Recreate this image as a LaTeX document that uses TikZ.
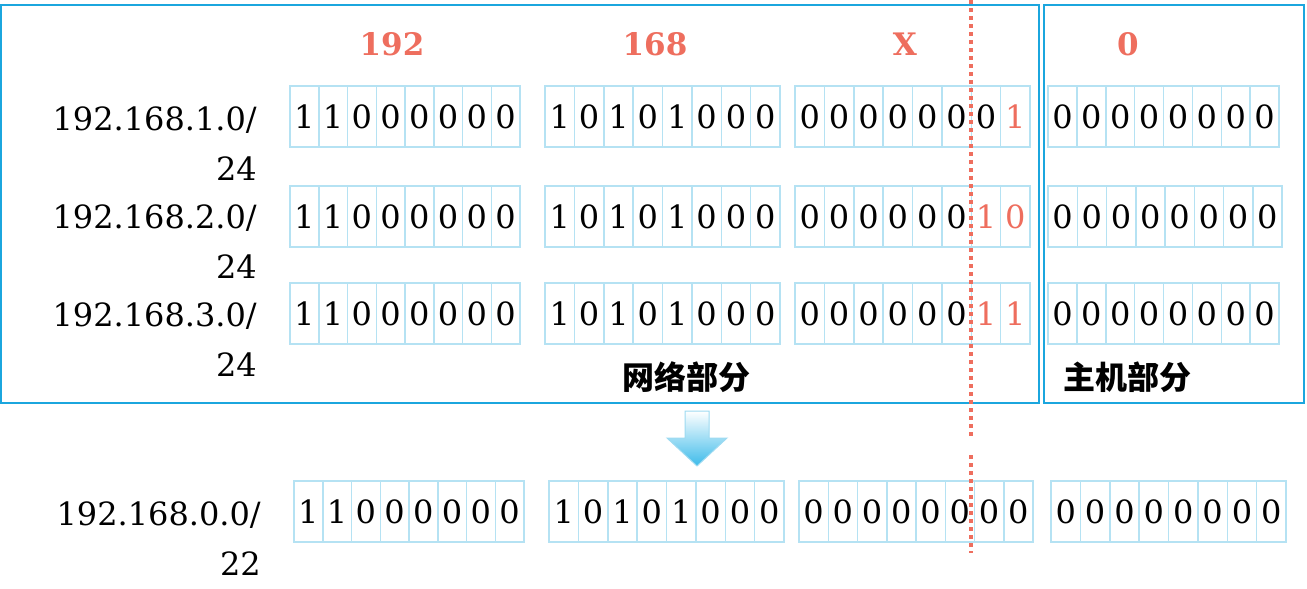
\documentclass[tikz,border=0pt]{standalone}
\usepackage{fontspec}
\setmainfont{DejaVu Serif}
\newfontfamily\cjk{Noto Sans CJK SC}
\definecolor{boxblue}{HTML}{1BA6DE}
\definecolor{cellblue}{HTML}{B5E2F3}
\definecolor{redc}{HTML}{EE6E5E}
\definecolor{arrowblue}{HTML}{3DBBEA}
\newcommand\bitgroup[5]{%
  \foreach \b/\c [count=\i] in {#5}{%
    \node[cell, text=\c, minimum width={#4/8}] (#1-\i) at ({#2+(\i-0.5)*#4/8},{#3+30.5}) {\b};
  }}
\begin{document}
\begin{tikzpicture}[x=1pt,y=-1pt,
  cell/.style={draw=cellblue, line width=1.5pt, inner sep=0pt, minimum height=61pt,
    font=\fontsize{32}{32}\selectfont},
  bigbox/.style={draw=boxblue, line width=2pt},
  addr/.style={align=right, anchor=north east, inner sep=0pt, font=\fontsize{32}{50}\selectfont},
  head/.style={anchor=base, text=redc, inner sep=0pt, font=\fontsize{31}{31}\selectfont\bfseries},
  part/.style={inner sep=0pt, font=\cjk\fontsize{32}{32}\selectfont\bfseries},
  cut/.style={draw=redc, line width=4pt, dash pattern=on 4pt off 4pt}]
\useasboundingbox (0,0) rectangle (1307,589);

% outer frames
\draw[bigbox] (1,5) rectangle (1039,403);
\draw[bigbox] (1044,5) rectangle (1304,403);

% headers
\node[head] (h1) at (392,55) {192};
\node[head] (h2) at (655,55) {168};
\node[head] (h3) at (905,55) {X};
\node[head] (h4) at (1128,55) {0};

% address labels
\node[addr] (a1) at (257,107) {192.168.1.0/\\24};
\node[addr] (a2) at (257,205) {192.168.2.0/\\24};
\node[addr] (a3) at (257,303) {192.168.3.0/\\24};
\node[addr] (a4) at (261,502) {192.168.0.0/\\22};

% row 1
\bitgroup{r1a}{290}{86}{230}{1/black,1/black,0/black,0/black,0/black,0/black,0/black,0/black}
\bitgroup{r1b}{545}{86}{235}{1/black,0/black,1/black,0/black,1/black,0/black,0/black,0/black}
\bitgroup{r1c}{795}{86}{235}{0/black,0/black,0/black,0/black,0/black,0/black,0/black,1/redc}
\bitgroup{r1d}{1048}{86}{231}{0/black,0/black,0/black,0/black,0/black,0/black,0/black,0/black}
% row 2
\bitgroup{r2a}{290}{186}{230}{1/black,1/black,0/black,0/black,0/black,0/black,0/black,0/black}
\bitgroup{r2b}{545}{186}{235}{1/black,0/black,1/black,0/black,1/black,0/black,0/black,0/black}
\bitgroup{r2c}{795}{186}{235}{0/black,0/black,0/black,0/black,0/black,0/black,1/redc,0/redc}
\bitgroup{r2d}{1048}{186}{234}{0/black,0/black,0/black,0/black,0/black,0/black,0/black,0/black}
% row 3
\bitgroup{r3a}{290}{283}{230}{1/black,1/black,0/black,0/black,0/black,0/black,0/black,0/black}
\bitgroup{r3b}{545}{283}{235}{1/black,0/black,1/black,0/black,1/black,0/black,0/black,0/black}
\bitgroup{r3c}{795}{283}{235}{0/black,0/black,0/black,0/black,0/black,0/black,1/redc,1/redc}
\bitgroup{r3d}{1048}{283}{231}{0/black,0/black,0/black,0/black,0/black,0/black,0/black,0/black}
% result row
\bitgroup{r4a}{294}{481}{230}{1/black,1/black,0/black,0/black,0/black,0/black,0/black,0/black}
\bitgroup{r4b}{549}{481}{235}{1/black,0/black,1/black,0/black,1/black,0/black,0/black,0/black}
\bitgroup{r4c}{799}{481}{234}{0/black,0/black,0/black,0/black,0/black,0/black,0/black,0/black}
\bitgroup{r4d}{1051}{481}{235}{0/black,0/black,0/black,0/black,0/black,0/black,0/black,0/black}

% part labels
\node[part] (net) at (686,377) {网络部分};
\node[part] (host) at (1127,377) {主机部分};

% down arrow
\draw[draw=cellblue!80!arrowblue, line width=1pt, top color=white, bottom color=arrowblue]
  (685,411) -- (709,411) -- (709,438) -- (727,438) -- (697,466) -- (667,438) -- (685,438) -- cycle;

% cut line
\coordinate (c0) at (971,0);
\coordinate (c1) at (971,437);
\coordinate (c2) at (971,455);
\coordinate (c3) at (971,553);
\draw[cut] (c0) -- (c1);
\draw[cut] (c2) -- (c3);
\end{tikzpicture}
\end{document}
